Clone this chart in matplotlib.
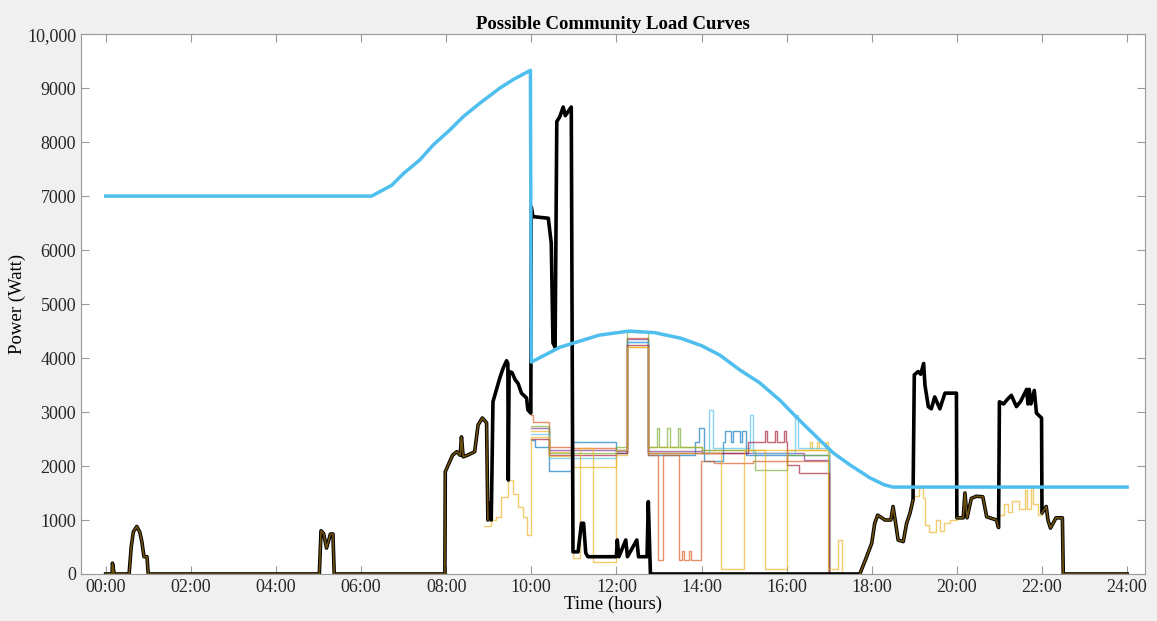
import numpy as np
import matplotlib
matplotlib.use("Agg")
import matplotlib.pyplot as plt

plt.rcParams.update({
    "font.family": "serif",
    "font.serif": ["Liberation Serif", "DejaVu Serif"],
    "font.size": 12,
})

# reference / target curve (W)
ref_t = [0, 6.25, 6.72, 7.0, 7.38, 7.7, 8.08, 8.4, 8.79, 9.26, 9.6, 9.98, 10.0, 10.67, 11.6, 12.3,
         12.9, 13.5, 14.0, 14.43, 14.9, 15.37, 15.84, 16.3, 16.78, 17.1, 17.49, 17.96, 18.3, 18.5, 24]
ref_v = [7000, 7000, 7200, 7420, 7670, 7950, 8220, 8470, 8720, 9000, 9170, 9330, 3925, 4200, 4425, 4500,
         4470, 4370, 4230, 4055, 3780, 3540, 3220, 2850, 2480, 2240, 2020, 1780, 1650, 1610, 1610]

# community load (black)
load_t = [0.0, 0.15, 0.16, 0.2, 0.55, 0.6, 0.65, 0.73, 0.8, 0.85, 0.9, 0.97, 1.0,
          5.02, 5.06, 5.12, 5.19, 5.28, 5.34, 5.37,
          7.97, 7.98, 8.05, 8.15, 8.25, 8.33, 8.36, 8.4, 8.5, 8.67, 8.75, 8.85, 8.95, 8.98,
          9.02, 9.06, 9.1, 9.18, 9.26, 9.34, 9.42, 9.45, 9.46, 9.48, 9.55, 9.62, 9.69, 9.77,
          9.89, 9.92, 9.99, 10.0, 10.04, 10.4, 10.47, 10.51, 10.56, 10.6, 10.67, 10.75, 10.8,
          10.94, 10.98, 11.1, 11.18, 11.23, 11.28, 11.33, 12.0, 12.02, 12.06, 12.22, 12.26,
          12.48, 12.52, 12.72, 12.75, 12.8,
          17.72, 17.88, 18.0, 18.07, 18.14, 18.2, 18.31, 18.45, 18.5, 18.55, 18.62, 18.74,
          18.82, 18.9, 18.97, 19.0, 19.09, 19.15, 19.22, 19.25, 19.33, 19.4, 19.48, 19.6,
          19.72, 19.99, 20.0, 20.15, 20.19, 20.24, 20.34, 20.46, 20.61, 20.7, 20.93, 20.98,
          21.0, 21.1, 21.17, 21.28, 21.4, 21.5, 21.64, 21.67, 21.7, 21.74, 21.82, 21.87,
          21.99, 22.0, 22.1, 22.14, 22.2, 22.33, 22.48, 22.5, 24.0]
load_v = [0, 0, 200, 0, 0, 500, 780, 880, 780, 600, 320, 320, 0,
          0, 800, 750, 480, 740, 740, 0,
          0, 1895, 2020, 2200, 2265, 2200, 2540, 2170, 2200, 2265, 2760, 2890, 2800, 1000,
          1310, 1000, 3190, 3410, 3630, 3815, 3950, 3900, 1740, 3750, 3730, 3600, 3530, 3350,
          3260, 3040, 2980, 6800, 6620, 6590, 6130, 4280, 4200, 8380, 8470, 8650, 8490,
          8650, 410, 410, 940, 940, 390, 320, 320, 630, 320, 630, 320,
          630, 320, 320, 1340, 0,
          0, 320, 570, 940, 1090, 1060, 1000, 1000, 1250, 1000, 630, 600,
          940, 1130, 1370, 3690, 3750, 3700, 3900, 3500, 3100, 3060, 3280, 3060,
          3350, 3350, 1040, 1040, 1500, 1040, 1400, 1440, 1430, 1060, 1000, 860,
          3190, 3150, 3220, 3310, 3100, 3200, 3420, 3150, 3420, 3150, 3400, 2980,
          2890, 1130, 1250, 1000, 850, 1040, 1040, 0, 0]

# shifted-load alternatives (step curves)
blue_t = [10.0, 10.08, 10.42, 10.95, 12.0, 12.25, 12.75, 13.85, 13.95, 14.05, 14.5, 14.55,
          14.7, 14.75, 14.9, 14.95, 15.05, 17.0]
blue_v = [2480, 2350, 1900, 2450, 2240, 4300, 2200, 2450, 2700, 2100, 2450, 2640,
          2450, 2640, 2450, 2640, 2200, 0]
orange_t = [10.0, 10.05, 10.42, 10.95, 12.0, 12.25, 12.75, 12.97, 13.1, 13.47, 13.55,
            13.6, 13.7, 13.75, 13.98, 14.3, 15.2, 17.0]
orange_v = [2950, 2820, 2360, 2330, 2300, 4380, 2200, 260, 2200, 260, 420,
            260, 420, 260, 2100, 2050, 2100, 0]
yellow_t = [10.0, 10.42, 10.95, 12.0, 12.25, 12.75, 14.0, 16.5, 16.55, 16.6, 16.72,
            16.77, 16.92, 16.97, 17.0]
yellow_v = [2640, 2265, 1990, 2200, 4200, 2350, 2300, 2300, 2450, 2300, 2450,
            2300, 2450, 2300, 0]
purple_t = [10.0, 10.42, 12.0, 12.25, 12.75, 14.0, 16.4, 17.0]
purple_v = [2700, 2300, 2280, 4350, 2280, 2250, 2110, 0]
green_t = [10.0, 10.42, 12.0, 12.25, 12.75, 12.95, 13.0, 13.2, 13.25, 13.45, 13.5,
           14.0, 15.25, 16.0, 17.0]
green_v = [2750, 2250, 2350, 4480, 2350, 2700, 2350, 2700, 2350, 2700, 2350,
           2300, 1930, 2200, 0]
ltblue_t = [10.0, 10.42, 12.0, 12.25, 12.75, 14.18, 14.26, 14.3, 15.15, 15.22, 15.25,
            16.2, 16.27, 16.3, 17.0]
ltblue_v = [2600, 2150, 2300, 4300, 2250, 3040, 2340, 2340, 2950, 2250, 2250,
            2950, 2340, 2340, 0]
dkred_t = [10.0, 10.42, 12.0, 12.25, 12.75, 15.1, 15.5, 15.55, 15.72, 15.77, 15.93,
           15.98, 16.0, 16.3, 17.0]
dkred_v = [2500, 2200, 2250, 4250, 2250, 2450, 2640, 2450, 2640, 2450, 2640,
           2450, 2020, 1870, 0]
# yellow alternative that departs from the base load (nan = gap)
yel2_t = [8.9, 8.98, 9.05, 9.18, 9.3, 9.46, 9.57, 9.69, 9.81, 9.89, 10.0, 10.42, 10.98,
          11.14, 11.45, 12.0, 12.25, 12.75, 14.45, 15.0, 15.5, 16.0, 16.97, 17.2, 17.3, 17.35,
          18.97, 19.0, 19.1, 19.2, 19.25, 19.35, 19.5, 19.6, 19.7, 19.85, 20.0, 20.05,
          20.98, 21.0, 21.1, 21.2, 21.3, 21.45, 21.6, 21.65, 21.75, 21.8, 21.9, 22.0]
yel2_v = [880, 880, 1000, 1060, 1430, 1740, 1480, 1250, 1060, 720, 2540, 2180, 300,
          2330, 230, 2300, 4200, 2250, 100, 2300, 100, 2300, 100, 630, 0, np.nan,
          1370, 1450, 1600, 1400, 900, 780, 1000, 800, 950, 1000, 1040, np.nan,
          860, 1100, 1300, 1150, 1350, 1200, 1550, 1200, 1600, 1300, 1100, 1130]

hour_ticks = list(range(0, 25, 2))
hour_labels = [f"{h:02d}:00" for h in hour_ticks]
power_ticks = list(range(0, 10001, 1000))
power_labels = [str(p) for p in power_ticks[:-1]] + ["10,000"]

fig = plt.figure(figsize=(11.57, 6.21), dpi=100, facecolor="#f0f0f0")
ax = fig.add_axes([0.070, 0.0757, 0.9196, 0.8693])

series = [
    (blue_t, blue_v, "#0072BD"),
    (orange_t, orange_v, "#D95319"),
    (yellow_t, yellow_v, "#EDB120"),
    (purple_t, purple_v, "#7E2F8E"),
    (green_t, green_v, "#77AC30"),
    (ltblue_t, ltblue_v, "#4DBEEE"),
    (dkred_t, dkred_v, "#A2142F"),
]
for t, v, c in series:
    ax.plot(t, v, drawstyle="steps-post", color=c, linewidth=1.0, alpha=0.65)
ax.plot(yel2_t, yel2_v, drawstyle="steps-post", color="#EDB120", linewidth=1.0, alpha=0.65)

lt = np.array(load_t)
lv = np.array(load_v, dtype=float)
ax.plot(lt, lv, color="black", linewidth=2.6)
base_mask = (lt <= 8.98) | ((lt >= 17.7) & (lt <= 18.97)) | ((lt >= 20.0) & (lt <= 20.98)) | (lt >= 22.0)
ax.plot(lt, np.where(base_mask, lv, np.nan), color="#6e500e", linewidth=1.2)

ax.plot(ref_t, ref_v, color="#4DBEEE", linewidth=2.5)

ax.set_xlim(-0.58, 24.42)
ax.set_ylim(0, 10000)
ax.set_xticks(hour_ticks)
ax.set_xticklabels(hour_labels)
ax.set_yticks(power_ticks)
ax.set_yticklabels(power_labels)
ax.tick_params(direction="in", length=6, color="#999999", top=True, right=True,
               labelsize=13, labelcolor="#262626")
for s in ax.spines.values():
    s.set_color("#999999")
ax.set_xlabel("Time (hours)", fontsize=13.5, labelpad=0)
ax.set_ylabel("Power (Watt)", fontsize=13.5, labelpad=1)
ax.set_title("Possible Community Load Curves", fontsize=13.5, fontweight="bold", pad=4)

fig.savefig("out.png", dpi=100, facecolor=fig.get_facecolor())
